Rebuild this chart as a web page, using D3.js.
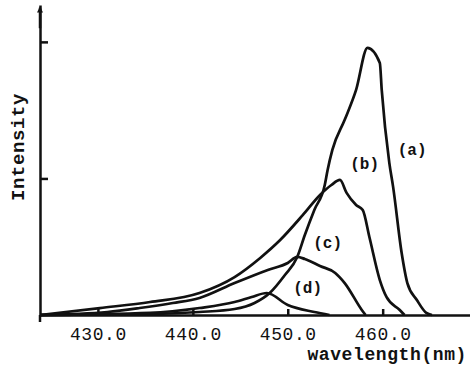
<!DOCTYPE html>
<html>
<head>
<meta charset="utf-8">
<script src="https://cdn.jsdelivr.net/npm/d3@7"></script>
<style>
  html, body { margin: 0; padding: 0; background: #fff; }
  #sandbox text { font-family: "Liberation Mono", "DejaVu Sans Mono", monospace; font-weight: bold; fill: #111; }
</style>
</head>
<body>
<div id="sandbox"></div>
<script>
// Canvas
const width = 470;
const height = 372;

// Data (wavelength nm, intensity a.u.)
const waveA = [423.9, 435.5, 440.7, 444.4, 446.5, 448.1, 449.7, 451.0, 451.8, 452.8, 453.9, 454.2, 454.7, 456.0, 457.2, 458.4, 459.7, 459.9, 460.7, 461.1, 462.0, 462.6, 463.6, 464.6, 465.2];
const intA  = [0, 0.007, 0.022, 0.044, 0.088, 0.161, 0.293, 0.425, 0.586, 0.769, 0.952, 1.062, 1.209, 1.429, 1.648, 1.956, 1.846, 1.648, 1.114, 0.938, 0.454, 0.234, 0.110, 0.015, 0];

const waveB = [423.9, 430.2, 435.5, 440.7, 444.4, 447.1, 449.2, 451.6, 453.4, 454.6, 455.5, 456.2, 457.2, 457.9, 458.6, 459.7, 460.4, 461.8, 462.3];
const intB  = [0, 0.051, 0.095, 0.161, 0.278, 0.418, 0.549, 0.733, 0.879, 0.952, 0.989, 0.894, 0.806, 0.769, 0.571, 0.256, 0.132, 0.037, 0];

const waveC = [423.9, 431.0, 434.4, 437.9, 440.7, 444.4, 447.9, 450.0, 451.0, 451.8, 453.4, 455.0, 456.0, 457.8, 458.2];
const intC  = [0, 0.022, 0.051, 0.088, 0.125, 0.234, 0.330, 0.381, 0.425, 0.410, 0.359, 0.308, 0.234, 0.037, 0];

const waveD = [423.9, 435.5, 440.7, 444.4, 446.2, 447.8, 450.0, 452.8, 454.4];
const intD  = [0, 0.015, 0.051, 0.095, 0.132, 0.161, 0.073, 0.022, 0];

const seriesNames = ["(a)", "(b)", "(c)", "(d)"];
// label anchor points (wavelength, intensity) for curve names
const labelWave = [463.1, 458.1, 454.2, 452.1];
const labelInt  = [1.21, 1.11, 0.53, 0.20];

const xTicks = [430, 440, 450, 460];
const yTicks = [1, 2];

const svg = d3.select("#sandbox")
    .append("svg")
    .attr("width", width)
    .attr("height", height);

// Scales
const x = d3.scaleLinear()
    .domain([423.9, 469.2])
    .range([40, 470]);

const y = d3.scaleLinear()
    .domain([0, 2.27])
    .range([315, 5]);

// arrow head for y axis
svg.append("defs").append("marker")
    .attr("id", "arrow")
    .attr("viewBox", "0 0 10 10")
    .attr("refX", 8).attr("refY", 5)
    .attr("markerWidth", 3).attr("markerHeight", 2.4)
    .attr("orient", "auto")
    .append("path")
    .attr("d", "M0,0 L10,5 L0,10 Z")
    .attr("fill", "#111");

// X axis, ticks point up into the plot
const xAxis = svg.append("g")
    .attr("transform", `translate(0,${y(0)})`)
    .call(d3.axisBottom(x)
        .tickValues(xTicks)
        .tickSizeInner(-6)
        .tickSizeOuter(0)
        .tickPadding(12)
        .tickFormat(d3.format(".1f")));
xAxis.selectAll("path, line").attr("stroke", "#111").attr("stroke-width", 2.5);
xAxis.selectAll("text")
    .style("font-size", "18px")
    .style("font-weight", "normal")
    .attr("letter-spacing", 0.6);

// Y axis, no labels, ticks point right
const yAxis = svg.append("g")
    .attr("transform", `translate(${x(423.9)},0)`)
    .call(d3.axisLeft(y)
        .tickValues(yTicks)
        .tickSizeInner(-8)
        .tickSizeOuter(0)
        .tickFormat(""));
yAxis.select(".domain").attr("stroke", "#111").attr("stroke-width", 2.5);
yAxis.selectAll("line").attr("stroke", "#111").attr("stroke-width", 2.5);

// arrow on top of y axis and short stub below origin
svg.append("line")
    .attr("x1", x(423.9)).attr("x2", x(423.9))
    .attr("y1", y(2.1)).attr("y2", y(2.25))
    .attr("stroke", "#111").attr("stroke-width", 2.5)
    .attr("marker-end", "url(#arrow)");
svg.append("line")
    .attr("x1", x(423.9)).attr("x2", x(423.9))
    .attr("y1", y(0)).attr("y2", y(0) + 7)
    .attr("stroke", "#111").attr("stroke-width", 2.5);

// Curves
const line = d3.line()
    .x(d => x(d[0]))
    .y(d => y(d[1]))
    .curve(d3.curveMonotoneX);

const series = [
    d3.zip(waveA, intA),
    d3.zip(waveB, intB),
    d3.zip(waveC, intC),
    d3.zip(waveD, intD)
];

svg.selectAll(".curve")
    .data(series)
    .enter()
    .append("path")
    .attr("class", "curve")
    .attr("d", line)
    .attr("fill", "none")
    .attr("stroke", "#111")
    .attr("stroke-width", 2.7)
    .attr("stroke-linejoin", "round");

// Curve names
svg.selectAll(".name")
    .data(seriesNames)
    .enter()
    .append("text")
    .attr("class", "name")
    .attr("x", (d, i) => x(labelWave[i]))
    .attr("y", (d, i) => y(labelInt[i]))
    .attr("text-anchor", "middle")
    .attr("dy", "0.35em")
    .style("font-size", "16px")
    .text(d => d);

// Axis titles
svg.append("text")
    .attr("x", 467)
    .attr("y", 360)
    .attr("text-anchor", "end")
    .style("font-size", "18px")
    .attr("letter-spacing", 0.6)
    .text("wavelength(nm)");

svg.append("text")
    .attr("transform", "translate(24,147) rotate(-90)")
    .attr("text-anchor", "middle")
    .style("font-size", "19px")
    .attr("letter-spacing", 0.6)
    .text("Intensity");
</script>
</body>
</html>
